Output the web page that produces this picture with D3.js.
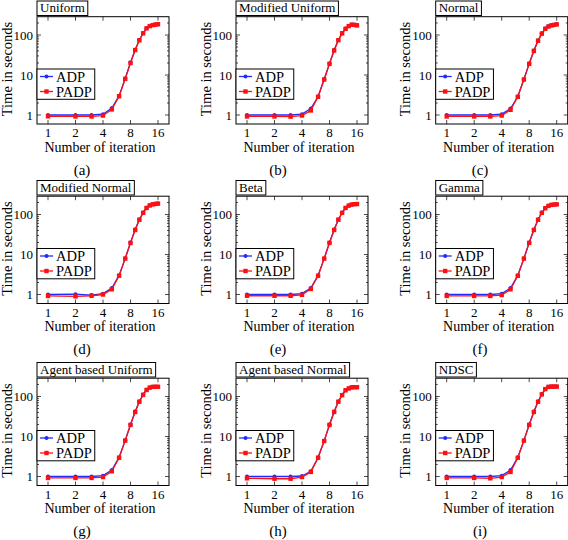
<!DOCTYPE html>
<html>
<head>
<meta charset="utf-8">
<script src="https://cdn.jsdelivr.net/npm/d3@7"></script>
<style>
  html, body { margin: 0; padding: 0; background: #fff; }
  svg { display: block; }
  text { font-family: "Liberation Serif", "Times New Roman", serif; fill: #000; }
</style>
</head>
<body>
<svg id="chart" width="568" height="540"></svg>
<script>
// ---------------- data ----------------
const iterations = [1, 2, 3, 4, 5, 6, 7, 8, 9, 10, 11, 12, 13, 14, 15, 16];
const panelTitles = ["Uniform", "Modified Uniform", "Normal", "Modified Normal", "Beta", "Gamma",
                     "Agent based Uniform", "Agent based Normal", "NDSC"];
const captions = ["(a)", "(b)", "(c)", "(d)", "(e)", "(f)", "(g)", "(h)", "(i)"];
const seriesNames = ["ADP", "PADP"];
const xTickValues = [1, 2, 4, 8, 16];
const yTickValues = [1, 10, 100];

const adpUniform        = [1.0, 1.0, 1.0, 1.05, 1.5, 3.0, 8.2, 20.5, 43, 75, 112, 148, 168, 178, 183, 187];
const padpUniform       = [0.93, 0.92, 0.92, 0.97, 1.38, 2.95, 8.0, 20, 42, 74, 110, 147, 167, 177, 182, 186];
const adpModUniform     = [1.0, 1.0, 1.0, 1.05, 1.45, 2.9, 7.8, 19.5, 42, 75, 112, 145, 168, 182, 180, 175];
const padpModUniform    = [0.92, 0.92, 0.91, 0.97, 1.3, 2.85, 7.7, 19, 41, 74, 110, 143, 167, 181, 179, 174];
const adpNormal         = [1.0, 1.0, 1.0, 1.05, 1.45, 2.9, 7.8, 19.5, 41, 73, 110, 145, 165, 175, 180, 185];
const padpNormal        = [0.92, 0.92, 0.92, 0.97, 1.35, 2.85, 7.7, 19, 40, 72, 108, 143, 163, 174, 179, 184];
const adpModNormal      = [1.0, 1.02, 0.97, 1.05, 1.45, 3.0, 8.0, 20, 42, 75, 112, 148, 170, 180, 185, 188];
const padpModNormal     = [0.92, 0.9, 0.93, 1.0, 1.35, 2.95, 7.9, 19.5, 41, 74, 110, 146, 168, 179, 184, 187];
const adpBeta           = [1.0, 1.0, 1.0, 1.05, 1.45, 3.0, 8.0, 20, 42, 75, 112, 148, 168, 178, 182, 184];
const padpBeta          = [0.93, 0.93, 0.93, 0.98, 1.38, 2.95, 7.9, 19.5, 41, 74, 110, 146, 167, 177, 181, 183];
const adpGamma          = [1.0, 1.0, 1.0, 1.05, 1.45, 3.0, 8.0, 20, 42, 75, 112, 145, 165, 175, 178, 180];
const padpGamma         = [0.92, 0.92, 0.92, 0.97, 1.35, 2.95, 7.9, 19.5, 41, 74, 110, 143, 164, 174, 177, 179];
const adpAgentUniform   = [1.0, 1.0, 1.0, 1.05, 1.45, 3.0, 8.0, 20, 42, 75, 112, 148, 168, 175, 176, 176];
const padpAgentUniform  = [0.92, 0.92, 0.92, 0.97, 1.35, 2.95, 7.9, 19.5, 41, 74, 110, 146, 167, 174, 175, 175];
const adpAgentNormal    = [1.0, 1.0, 1.0, 1.03, 1.35, 3.0, 7.8, 20, 42, 75, 110, 145, 160, 170, 172, 172];
const padpAgentNormal   = [0.9, 0.88, 0.88, 0.97, 1.3, 2.95, 7.7, 19.5, 41, 74, 108, 143, 159, 169, 171, 171];
const adpNDSC           = [1.0, 1.0, 1.0, 1.05, 1.45, 3.0, 8.0, 20, 42, 75, 115, 155, 175, 178, 178, 178];
const padpNDSC          = [0.92, 0.92, 0.9, 0.97, 1.3, 2.95, 7.9, 19.5, 41, 74, 113, 153, 174, 177, 177, 177];

const adpSeries  = [adpUniform, adpModUniform, adpNormal, adpModNormal, adpBeta, adpGamma, adpAgentUniform, adpAgentNormal, adpNDSC];
const padpSeries = [padpUniform, padpModUniform, padpNormal, padpModNormal, padpBeta, padpGamma, padpAgentUniform, padpAgentNormal, padpNDSC];

// ---------------- layout ----------------
const colX = [0, 199, 398.7];
const rowY = [0, 179.5, 361.5];
const captionX = [82, 278, 480];
const BLUE = "#1f2bff";
const RED = "#ff1010";

const svg = d3.select("#chart");

function drawPanel(i) {
  const ox = colX[i % 3], oy = rowY[Math.floor(i / 3)];
  const left = ox + 37, right = ox + 169, top = oy + 16.7, bottom = oy + 124;

  const x = d3.scaleLog().base(2).domain([Math.pow(2, -0.4), Math.pow(2, 4.4)]).range([left, right]);
  const y = d3.scaleLog().domain([0.596, 287]).range([bottom, top]);

  const g = svg.append("g");

  // ticks inside box (all four sides)
  const yMinor = [];
  [1, 10, 100].forEach(d => { for (let k = 2; k <= 9; k++) { const v = d * k; if (v < 287) yMinor.push(v); } });
  const tickG = g.append("g").attr("stroke", "#000").attr("stroke-width", 0.7);
  yMinor.forEach(v => {
    tickG.append("line").attr("x1", left).attr("x2", left + 2).attr("y1", y(v)).attr("y2", y(v));
    tickG.append("line").attr("x1", right).attr("x2", right - 2).attr("y1", y(v)).attr("y2", y(v));
  });
  yTickValues.forEach(v => {
    tickG.append("line").attr("x1", left).attr("x2", left + 4).attr("y1", y(v)).attr("y2", y(v));
    tickG.append("line").attr("x1", right).attr("x2", right - 4).attr("y1", y(v)).attr("y2", y(v));
  });
  xTickValues.forEach(v => {
    tickG.append("line").attr("x1", x(v)).attr("x2", x(v)).attr("y1", bottom).attr("y2", bottom - 4);
    tickG.append("line").attr("x1", x(v)).attr("x2", x(v)).attr("y1", top).attr("y2", top + 4);
  });

  // tick labels
  g.append("g").selectAll("text").data(yTickValues).join("text")
    .attr("x", left - 4).attr("y", d => y(d) + 4.5)
    .attr("text-anchor", "end").attr("font-size", 13).text(d => d);
  g.append("g").selectAll("text").data(xTickValues).join("text")
    .attr("x", d => x(d)).attr("y", bottom + 13)
    .attr("text-anchor", "middle").attr("font-size", 13).text(d => d);

  // axis labels
  g.append("text").attr("x", (left + right) / 2 - 3).attr("y", oy + 151.5)
    .attr("text-anchor", "middle").attr("font-size", 14).text("Number of iteration");
  g.append("text").attr("transform", `translate(${ox + 11.5},${oy + 69}) rotate(-90)`)
    .attr("text-anchor", "middle").attr("font-size", 14.5).text("Time in seconds");

  // lines
  const line = d3.line().x((d, k) => x(iterations[k])).y(d => y(d));
  const adp = adpSeries[i], padp = padpSeries[i];
  g.append("path").datum(adp).attr("d", line).attr("fill", "none").attr("stroke", BLUE).attr("stroke-width", 1.3);
  g.append("g").selectAll("circle").data(adp).join("circle")
    .attr("cx", (d, k) => x(iterations[k])).attr("cy", d => y(d)).attr("r", 2).attr("fill", BLUE);
  g.append("path").datum(padp).attr("d", line).attr("fill", "none").attr("stroke", RED).attr("stroke-width", 1.3);
  g.append("g").selectAll("rect").data(padp).join("rect")
    .attr("x", (d, k) => x(iterations[k]) - 2.2).attr("y", d => y(d) - 2.2)
    .attr("width", 4.4).attr("height", 4.4).attr("fill", RED);

  // frame
  g.append("rect").attr("x", left).attr("y", top).attr("width", right - left).attr("height", bottom - top)
    .attr("fill", "none").attr("stroke", "#000").attr("stroke-width", 1);

  // legend
  const lg = g.append("g");
  const lgTop = oy + 69, lgBottom = oy + 99.3;
  const lgBox = lg.append("rect").attr("x", left).attr("y", lgTop).attr("height", lgBottom - lgTop)
    .attr("fill", "#fff").attr("stroke", "#000").attr("stroke-width", 1);
  const entryY = [oy + 76.5, oy + 91.5];
  let maxRight = 0;
  seriesNames.forEach((name, k) => {
    const col = k === 0 ? BLUE : RED;
    lg.append("line").attr("x1", left + 3).attr("x2", left + 16).attr("y1", entryY[k]).attr("y2", entryY[k])
      .attr("stroke", col).attr("stroke-width", 1.3);
    if (k === 0) lg.append("circle").attr("cx", left + 9.5).attr("cy", entryY[k]).attr("r", 2).attr("fill", col);
    else lg.append("rect").attr("x", left + 9.5 - 2.2).attr("y", entryY[k] - 2.2).attr("width", 4.4).attr("height", 4.4).attr("fill", col);
    const t = lg.append("text").attr("x", left + 19).attr("y", entryY[k] + 5).attr("font-size", 14.5).text(name);
    maxRight = Math.max(maxRight, t.node().getComputedTextLength());
  });
  lgBox.attr("width", 19 + maxRight + 3);

  // title box
  const tg = g.append("g");
  const tRect = tg.append("rect").attr("x", left).attr("y", oy + 1).attr("height", 14.5)
    .attr("fill", "#fff").attr("stroke", "#000").attr("stroke-width", 1);
  const tt = tg.append("text").attr("x", left + 3).attr("y", oy + 12.2).attr("font-size", 13).text(panelTitles[i]);
  tRect.attr("width", tt.node().getComputedTextLength() + 6);

  // caption
  g.append("text").attr("x", captionX[i % 3]).attr("y", oy + 174.5).attr("text-anchor", "middle")
    .attr("font-size", 15).text(captions[i]);
}

for (let i = 0; i < 9; i++) drawPanel(i);
</script>
</body>
</html>
